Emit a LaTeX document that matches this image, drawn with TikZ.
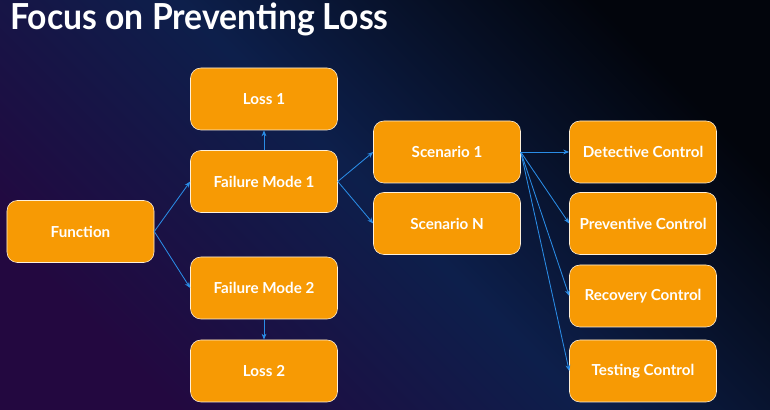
\documentclass[tikz,border=0pt]{standalone}
\usepackage{fontspec}
\setmainfont{Lato}
\newfontfamily\titlefont{Lato}[FakeStretch=0.94]
\usetikzlibrary{positioning,arrows.meta}
\definecolor{bgpurple}{HTML}{230840}
\definecolor{bgnavy}{HTML}{0D1F4B}
\definecolor{bgdark}{HTML}{02050C}
\definecolor{boxorange}{HTML}{F79A04}
\definecolor{linkblue}{HTML}{2A8CE6}

\begin{document}
\begin{tikzpicture}[x=0.25mm, y=-0.25mm,
  box/.style={draw=white!85!boxorange, fill=boxorange, rounded corners=2.6mm,
              minimum width=36.75mm, minimum height=15.5mm, inner sep=0,
              text=white, font=\bfseries\fontsize{10.8}{12}\selectfont},
  ttl/.style={text=white, inner sep=0, font=\titlefont\bfseries\fontsize{25.5}{28}\selectfont},
  arr/.style={-{Stealth[length=1.5mm, width=1.2mm]}, draw=linkblue, line width=0.6pt}]
% backdrop
\shade[top color=bgdark, bottom color=bgpurple, middle color=bgnavy, shading angle=-45]
  (0,0) rectangle (770,410);
\useasboundingbox (0,0) rectangle (770,410);
\node[ttl, anchor=base west] (title) at (10,30) {Focus on Preventing Loss};
% left part
\node[box] (fn) at (80.5,231.5) {Function};
\node[box] (loss1) at (264,99) {Loss 1};
\node[box] (fm1) at (264,181.5) {Failure Mode 1};
\node[box] (fm2) at (264,288) {Failure Mode 2};
\node[box] (loss2) at (264,371) {Loss 2};
\node[box] (sc1) at (447,152) {Scenario 1};
\node[box] (scn) at (447,223.5) {Scenario N};
% controls
\foreach \n/\y/\t in {det/152/Detective Control, prev/223.5/Preventive Control,
                      rec/296/Recovery Control, test/371/Testing Control}
  \node[box] (\n) at (643,\y) {\t};
\draw[arr] (fn.east) -- (fm1.west);
\draw[arr] (fn.east) -- (fm2.west);
\draw[arr] (fm1.north) -- (loss1.south);
\draw[arr] (fm2.south) -- (loss2.north);
\draw[arr] (fm1.east) -- (sc1.west);
\draw[arr] (fm1.east) -- (scn.west);
\foreach \n in {det, prev, rec, test}
  \draw[arr] (sc1.east) -- (\n.west);
\end{tikzpicture}
\end{document}
